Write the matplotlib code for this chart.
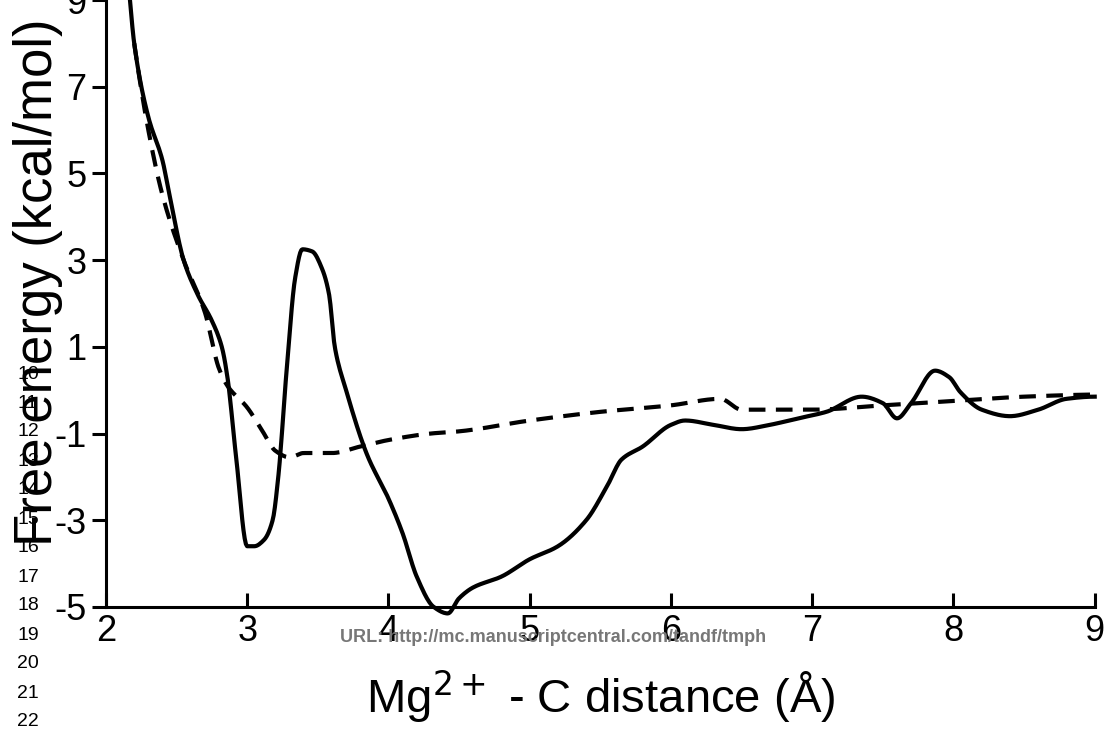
import matplotlib
matplotlib.use("Agg")
import matplotlib.pyplot as plt
from scipy.interpolate import PchipInterpolator
import numpy as np

plt.rcParams['font.family'] = ['Liberation Sans', 'DejaVu Sans']

# solid curve
solid_x = [2.17, 2.2, 2.3, 2.4, 2.45, 2.55, 2.65, 2.75, 2.82, 2.86, 2.92, 3.0, 3.05, 3.12, 3.18, 3.22,
           3.28, 3.34, 3.39, 3.46, 3.53, 3.58, 3.62, 3.7, 3.85, 4.0, 4.1, 4.2, 4.32, 4.42, 4.5, 4.6,
           4.8, 5.0, 5.2, 5.4, 5.55, 5.65, 5.8, 6.0, 6.1, 6.3, 6.5, 6.7, 6.9, 7.1, 7.35, 7.5, 7.6,
           7.7, 7.87, 7.97, 8.05, 8.2, 8.4, 8.6, 8.8, 9.0]
solid_y = [9.0, 8.0, 6.3, 5.3, 4.5, 3.0, 2.2, 1.6, 1.0, 0.3, -1.5, -3.6, -3.6, -3.45, -3.0, -2.0,
           0.5, 2.6, 3.25, 3.2, 2.8, 2.2, 1.0, 0.0, -1.5, -2.5, -3.3, -4.3, -5.0, -5.15, -4.8, -4.55,
           -4.3, -3.9, -3.6, -3.0, -2.2, -1.6, -1.3, -0.8, -0.7, -0.8, -0.9, -0.8, -0.65, -0.5, -0.15, -0.3, -0.65,
           -0.3, 0.45, 0.3, -0.05, -0.45, -0.6, -0.45, -0.2, -0.15]

# dashed curve
dash_x = [2.2, 2.3, 2.4, 2.55, 2.7, 2.8, 2.86, 3.0, 3.1, 3.2, 3.3, 3.4, 3.6, 3.8, 4.0, 4.3, 4.5,
          5.0, 5.5, 6.0, 6.35, 6.5, 7.0, 7.5, 8.0, 8.5, 9.0]
dash_y = [8.0, 6.0, 4.5, 3.0, 1.8, 0.5, 0.1, -0.4, -0.9, -1.4, -1.55, -1.45, -1.45, -1.3, -1.15, -1.0, -0.95,
          -0.7, -0.5, -0.35, -0.2, -0.45, -0.45, -0.35, -0.25, -0.15, -0.1]

line_numbers = list(range(10, 23))

fig = plt.figure(figsize=(11.06, 7.33), dpi=100)
ax = fig.add_axes([0.0958, 0.172, 0.894, 0.828])

xs = np.linspace(solid_x[0], solid_x[-1], 800)
ax.plot(xs, PchipInterpolator(solid_x, solid_y)(xs), color='black', lw=3, clip_on=False)
xd = np.linspace(dash_x[0], dash_x[-1], 800)
ax.plot(xd, PchipInterpolator(dash_x, dash_y)(xd), color='black', lw=3, linestyle=(0, (4, 2.5)))

ax.set_xlim(2, 9)
ax.set_ylim(-5, 8.89)
ax.set_xticks(range(2, 10))
ax.set_yticks([-5, -3, -1, 1, 3, 5, 7, 9])
ax.set_yticklabels(['-5', '-3', '-1', '1', '3', '5', '7', '9'])
for s in ['top', 'right']:
    ax.spines[s].set_visible(False)
for s in ['left', 'bottom']:
    ax.spines[s].set_linewidth(2.2)
ax.tick_params(axis='x', direction='in', length=10, width=2.2, labelsize=26, pad=5)
ax.tick_params(axis='y', direction='out', length=10, width=2.2, labelsize=26, pad=4)

ax.set_xlabel('Mg$^{2+}$ - C distance (Å)', fontsize=34, labelpad=14)
fig.text(0.034, 0.615, 'Free energy (kcal/mol)', fontsize=38, rotation=90, ha='center', va='center')

for n in line_numbers:
    fig.text(28 / 1106, 1 - (577 + (n - 17) * 29) / 733, str(n), fontsize=14, ha='center', va='center')
fig.text(0.5, 1 - 638 / 733, 'URL: http://mc.manuscriptcentral.com/tandf/tmph', fontsize=13,
         color='#777777', fontweight='bold', ha='center', va='center')

fig.savefig('out.png', dpi=100)
